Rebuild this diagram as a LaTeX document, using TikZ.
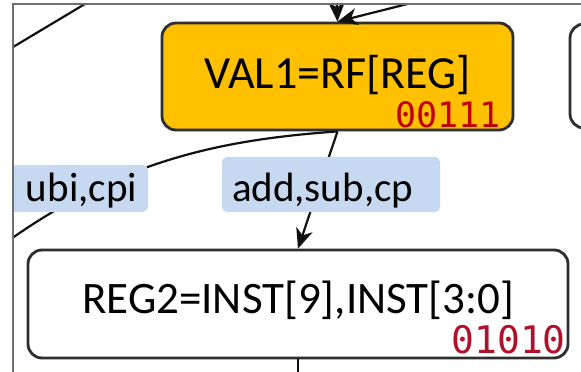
\documentclass[tikz,border=0pt]{standalone}
\usepackage{fontspec}
\setmainfont{Carlito}
\newfontfamily\codefont{DejaVu Sans Mono}
\usetikzlibrary{arrows.meta}
\definecolor{valfill}{HTML}{FFC000}
\definecolor{boxline}{HTML}{2E2E2E}
\definecolor{lblfill}{HTML}{C6D9F1}
\definecolor{codered}{HTML}{C00000}
\definecolor{codecrimson}{HTML}{B0102A}
\definecolor{framegray}{HTML}{6E6E6E}
\definecolor{edgecol}{HTML}{111111}
\tikzset{
  procbox/.style={draw=boxline, line width=2.8pt, rounded corners=14pt, inner sep=0pt},
  lblbox/.style={fill=lblfill, rounded corners=5pt, inner ysep=0pt, font=\fontsize{41}{45}\selectfont},
  codetxt/.style={inner sep=0pt, anchor=base east},
  edge/.style={draw=edgecol, line width=2.2pt},
  arr/.style={edge, -{Stealth[length=20pt,width=17pt,inset=6pt]}}
}
\begin{document}
\begin{tikzpicture}[x=1pt,y=-1pt]
\useasboundingbox (0,0) rectangle (581,372);
\fill[white] (0,0) rectangle (581,372);
\begin{scope}
\clip (13,4) rectangle (581,372);
% boxes
\node[procbox, fill=valfill, minimum width=351pt, minimum height=107pt,
      text height=31pt, text depth=8pt] (val1) at (337.5,76.5)
      {\fontsize{46}{50}\selectfont VAL1=RF[REG]};
\node[codetxt, text=codered, font=\codefont\fontsize{35}{38}\selectfont] (code1) at (501,127) {00111};
\node[procbox, fill=white, minimum width=540pt, minimum height=108pt,
      text height=29pt, text depth=11pt] (reg2) at (298,304)
      {\fontsize{45}{50}\selectfont REG2=INST[9],INST[3:0]};
\node[codetxt, text=codecrimson, font=\codefont\fontsize{38}{40}\selectfont] (code2) at (566,353) {01010};
\node[procbox, fill=white, minimum width=100pt, minimum height=104pt] (rbox) at (620,76) {};
% free ends
\coordinate (topA) at (336,-12);
\coordinate (topB) at (463,-10);
\coordinate (lend) at (-20,262);
\coordinate (botC) at (298,395);
\coordinate (dA) at (0,54.8);
\coordinate (dB) at (100,-5);
% connectors
\draw[edge] (dA) -- (dB);
\draw[arr] (topA) -- (val1.north);
\draw[arr] (topB) -- (val1.north);
\draw[edge] (val1.south) .. controls (220,140) and (110,160) .. (lend);
\draw[arr] (val1.south) -- (reg2.north);
\draw[edge] (reg2.south) -- (botC);
% labels
\node[lblbox, text width=198pt, align=left, inner xsep=10pt, minimum height=55pt,
      text height=33pt, text depth=0pt] (lab1) at (331,184.5) {add,sub,cp};
\node[lblbox, text width=146pt, align=right, inner xsep=11pt, minimum height=47pt,
      text height=25pt, text depth=0pt] (lab2) at (64,188.5) {ubi,cpi};
\end{scope}
\draw[framegray, line width=2pt] (13,372) -- (13,4) -- (581,4);
\end{tikzpicture}
\end{document}
